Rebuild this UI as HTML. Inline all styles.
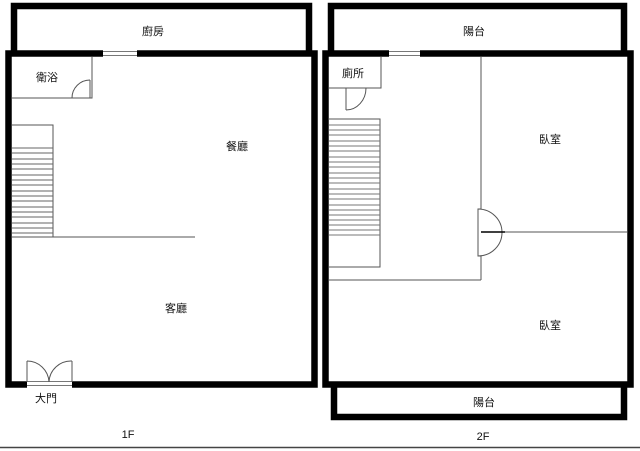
<!DOCTYPE html>
<html><head><meta charset="utf-8"><style>
html,body{margin:0;padding:0;background:#fff;}
svg{display:block;}
text{font-family:"Liberation Sans","Noto Sans CJK TC",sans-serif;font-size:11px;fill:#111;text-anchor:middle;}
</style></head><body>
<svg width="640" height="451" viewBox="0 0 640 451" xmlns="http://www.w3.org/2000/svg">
<g fill="none" stroke="#000" stroke-width="6.5">
<polyline points="14,53 14,6 309,6 309,53"/>
<rect x="8.5" y="53.5" width="306" height="331"/>
<polyline points="331,53 331,6 624,6 624,53"/>
<rect x="325.5" y="53.5" width="305" height="331"/>
<polyline points="334,385 334,417 624,417 624,385"/>
</g>
<rect x="103" y="50" width="34" height="7" fill="#fff"/>
<line x1="103" y1="51.5" x2="137" y2="51.5" stroke="#777" stroke-width="1"/>
<line x1="103" y1="55.5" x2="137" y2="55.5" stroke="#777" stroke-width="1"/>
<rect x="389" y="50" width="31" height="7" fill="#fff"/>
<line x1="389" y1="51.5" x2="420" y2="51.5" stroke="#777" stroke-width="1"/>
<line x1="389" y1="55.5" x2="420" y2="55.5" stroke="#777" stroke-width="1"/>
<rect x="27" y="380" width="45" height="8" fill="#fff"/>
<line x1="27" y1="381.5" x2="72" y2="381.5" stroke="#777" stroke-width="1"/>
<line x1="27" y1="385.5" x2="72" y2="385.5" stroke="#777" stroke-width="1"/>
<g fill="none" stroke="#555" stroke-width="1">
<line x1="27" y1="361" x2="27" y2="382"/>
<line x1="72" y1="361" x2="72" y2="382"/>
<path d="M27,361 A22,22 0 0 1 49,382"/>
<path d="M72,361 A22,22 0 0 0 49,382"/>
<polyline points="12,98 92,98 92,57"/>
<line x1="90" y1="80" x2="90" y2="98"/>
<path d="M90,80 A18,18 0 0 0 72,98"/>
<polyline points="12,125 53,125 53,237"/>
<line x1="12" y1="237" x2="195" y2="237"/>
<g stroke="#666">
<line x1="12" y1="148" x2="53" y2="148"/><line x1="12" y1="153" x2="53" y2="153"/><line x1="12" y1="159" x2="53" y2="159"/><line x1="12" y1="164" x2="53" y2="164"/><line x1="12" y1="169" x2="53" y2="169"/><line x1="12" y1="175" x2="53" y2="175"/><line x1="12" y1="180" x2="53" y2="180"/><line x1="12" y1="185" x2="53" y2="185"/><line x1="12" y1="191" x2="53" y2="191"/><line x1="12" y1="196" x2="53" y2="196"/><line x1="12" y1="201" x2="53" y2="201"/><line x1="12" y1="207" x2="53" y2="207"/><line x1="12" y1="212" x2="53" y2="212"/><line x1="12" y1="217" x2="53" y2="217"/><line x1="12" y1="223" x2="53" y2="223"/><line x1="12" y1="228" x2="53" y2="228"/><line x1="12" y1="233" x2="53" y2="233"/>
</g>
<polyline points="329,88 381,88 381,57"/>
<polyline points="346,110 346,88 366,88"/>
<path d="M366,88 A20,22 0 0 1 346,110"/>
<polyline points="329,119 380,119 380,267 329,267"/>
<g stroke="#777">
<line x1="329" y1="125" x2="380" y2="125"/><line x1="329" y1="130" x2="380" y2="130"/><line x1="329" y1="135" x2="380" y2="135"/><line x1="329" y1="141" x2="380" y2="141"/><line x1="329" y1="146" x2="380" y2="146"/><line x1="329" y1="151" x2="380" y2="151"/><line x1="329" y1="157" x2="380" y2="157"/><line x1="329" y1="162" x2="380" y2="162"/><line x1="329" y1="167" x2="380" y2="167"/><line x1="329" y1="173" x2="380" y2="173"/><line x1="329" y1="178" x2="380" y2="178"/><line x1="329" y1="183" x2="380" y2="183"/><line x1="329" y1="189" x2="380" y2="189"/><line x1="329" y1="194" x2="380" y2="194"/><line x1="329" y1="199" x2="380" y2="199"/><line x1="329" y1="205" x2="380" y2="205"/><line x1="329" y1="210" x2="380" y2="210"/><line x1="329" y1="215" x2="380" y2="215"/><line x1="329" y1="220" x2="380" y2="220"/><line x1="329" y1="225" x2="380" y2="225"/><line x1="329" y1="230" x2="380" y2="230"/><line x1="329" y1="235" x2="380" y2="235"/>
</g>
<line x1="481" y1="57" x2="481" y2="209"/>
<line x1="481" y1="256" x2="481" y2="280"/>
<line x1="329" y1="280" x2="481" y2="280"/>
<line x1="481" y1="232" x2="627" y2="232"/>
<polyline points="481,209 478,209 478,256 481,256"/>
<path d="M478,209 A24,23.5 0 0 1 478,256"/>
</g>
<line x1="481" y1="232" x2="505" y2="232" stroke="#000" stroke-width="1.5"/>
<line x1="0" y1="447.5" x2="640" y2="447.5" stroke="#444" stroke-width="1.5"/>
<text x="153" y="35">廚房</text>
<text x="47" y="81">衛浴</text>
<text x="237" y="150">餐廳</text>
<text x="176" y="312">客廳</text>
<text x="46" y="402">大門</text>
<text x="128" y="438">1F</text>
<text x="474" y="35">陽台</text>
<text x="353" y="77">廁所</text>
<text x="550" y="143">臥室</text>
<text x="550" y="329">臥室</text>
<text x="484" y="406">陽台</text>
<text x="483" y="440">2F</text>
</svg>
</body></html>
